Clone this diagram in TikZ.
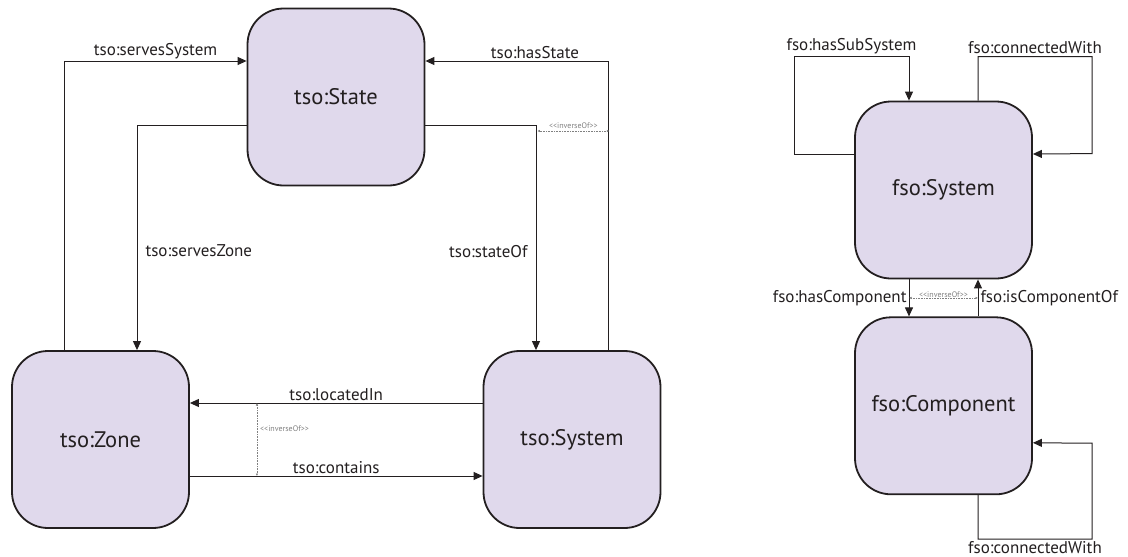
\documentclass[tikz,border=0pt]{standalone}
\usepackage{fontspec}
\setmainfont{PT Sans}
\usetikzlibrary{positioning,calc,arrows.meta}
\definecolor{clsfill}{HTML}{E0D9EC}
\definecolor{ink}{HTML}{231F20}
\tikzset{
	onto/.style={x=1pt,y=-1pt,>={Triangle[length=9pt,width=8pt]},color=ink},
	cls/.style={rectangle,rounded corners=36pt,draw=ink,line width=1.8pt,fill=clsfill,
		minimum width=177pt,minimum height=177pt,inner sep=3pt,font=\fontsize{22.5}{26}\selectfont,text=ink},
	rel/.style={->,line width=1pt,draw=ink},
	prop/.style={font=\fontsize{17}{19}\selectfont,text=ink,inner sep=2pt},
	inv/.style={densely dotted,line width=0.6pt,draw=gray,{Latex[length=2.5pt,width=2.5pt]}-{Latex[length=2.5pt,width=2.5pt]}},
	invlabel/.style={font=\fontsize{8}{9}\selectfont,text=gray,inner sep=1pt}
}
\newcommand{\invtext}{<\kern0pt<inverseOf>\kern0pt>}

\begin{document}
\begin{tikzpicture}[onto]
	\useasboundingbox (0,0) rectangle (1128,557);
	
	% tso
	\node[cls] (state) at (336,97) {tso:State};
	\node[cls] (zone) at (100.5,439.5) {tso:Zone};
	\node[cls] (system) at (572,439.5) {tso:System};
	
	\draw[rel] ([xshift=-36pt]zone.north) |- node[prop,pos=0.75,above]{tso:servesSystem} ([yshift=36pt]state.west);
	\draw[rel] ([xshift=36pt]system.north) |- node[prop,pos=0.7,above]{tso:hasState} ([yshift=36pt]state.east);
	\draw[rel] ([yshift=-28pt]state.west) -| node[prop,pos=0.78,right=6pt]{tso:servesZone} ([xshift=36.5pt]zone.north);
	\draw[rel] ([yshift=-28pt]state.east) -| node[prop,pos=0.78,left=6pt]{tso:stateOf} ([xshift=-36pt]system.north);
	\draw[inv] ($(state.east)+(112,34)$) -- node[invlabel,above=1pt]{\invtext} ($(state.east)+(184,34)$);
	
	\draw[rel] ([yshift=36.5pt]system.west) -- node[prop,above]{tso:locatedIn} ([yshift=36.5pt]zone.east);
	\draw[rel] ([yshift=-36.5pt]zone.east) -- node[prop,above]{tso:contains} ([yshift=-36.5pt]system.west);
	\draw[inv] ([xshift=67pt,yshift=36.5pt]zone.east) -- node[invlabel,pos=0.35,right=2pt]{\invtext} ([xshift=67pt,yshift=-36.5pt]zone.east);
	
	% fso
	\node[cls] (fsystem) at (943.5,190) {fso:System};
	\node[cls] (component) [below=37pt of fsystem] {fso:Component};
	
	\draw[rel] ([yshift=36pt]fsystem.west) -- ++(-60,0) |- node[prop,pos=0.75,above]{fso:hasSubSystem} ([xshift=-34.5pt,yshift=44pt]fsystem.north) -- ([xshift=-34.5pt]fsystem.north);
	\draw[rel] ([xshift=34.5pt]fsystem.north) -- ++(0,-44) -| node[prop,pos=0.25,above]{fso:connectedWith} ++(114,97) -- ([yshift=36pt]fsystem.east);
	\draw[rel] ([xshift=-34.5pt]fsystem.south) -- node[prop,left]{fso:hasComponent} ([xshift=-34.5pt]component.north);
	\draw[rel] ([xshift=34.5pt]component.north) -- node[prop,right]{fso:isComponentOf} ([xshift=34.5pt]fsystem.south);
	\draw[inv] ($(fsystem.south)!0.5!(component.north)+(-34.5,0)$) -- node[invlabel,above,inner sep=0.3pt]{\invtext} ($(fsystem.south)!0.5!(component.north)+(34.5,0)$);
	\draw[rel] ([xshift=34.5pt]component.south) -- ++(0,44) -| node[prop,pos=0.25,below]{fso:connectedWith} ++(114,-96) -- ([yshift=-37pt]component.east);
\end{tikzpicture}
\end{document}
